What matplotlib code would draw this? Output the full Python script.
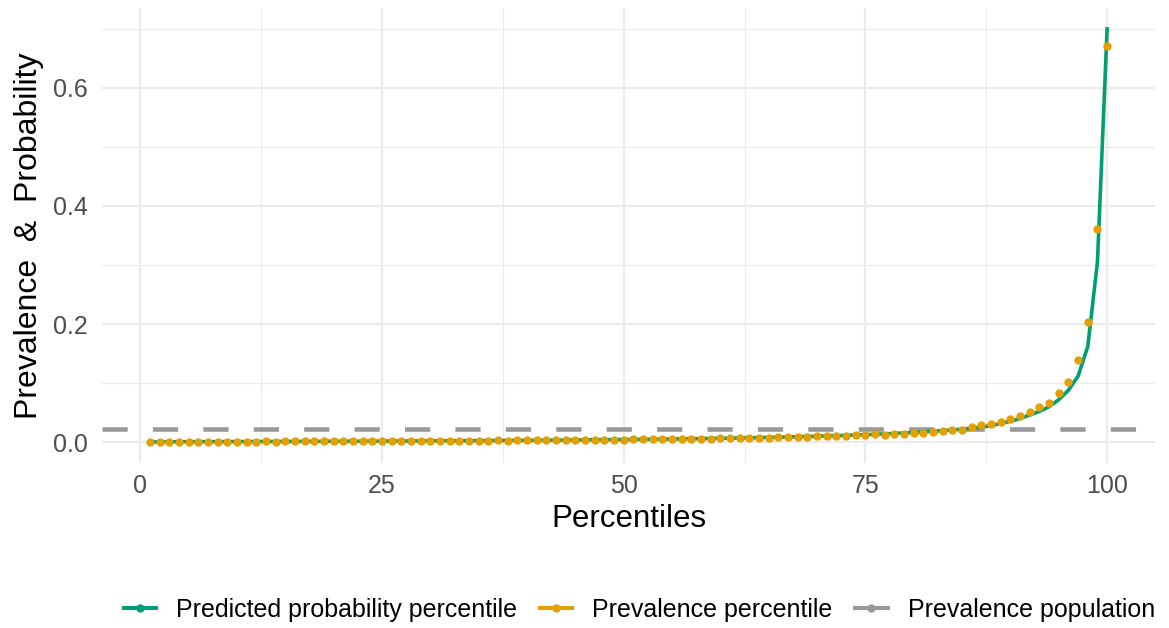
import numpy as np
import matplotlib.pyplot as plt
from matplotlib.lines import Line2D
from matplotlib.ticker import MultipleLocator

plt.rcParams["font.family"] = ["Liberation Sans", "DejaVu Sans"]

percentiles = np.arange(1, 101)

predicted_prob = [
    0.0004, 0.0005, 0.0006, 0.0006, 0.0007, 0.0008, 0.0008, 0.0009, 0.0009, 0.0010,
    0.0010, 0.0011, 0.0011, 0.0012, 0.0012, 0.0013, 0.0013, 0.0014, 0.0014, 0.0015,
    0.0016, 0.0016, 0.0017, 0.0017, 0.0018, 0.0019, 0.0019, 0.0020, 0.0021, 0.0022,
    0.0022, 0.0023, 0.0024, 0.0025, 0.0026, 0.0027, 0.0028, 0.0029, 0.0030, 0.0031,
    0.0032, 0.0033, 0.0034, 0.0036, 0.0037, 0.0038, 0.0040, 0.0041, 0.0043, 0.0044,
    0.0046, 0.0048, 0.0050, 0.0052, 0.0054, 0.0056, 0.0058, 0.0060, 0.0063, 0.0065,
    0.0068, 0.0071, 0.0074, 0.0077, 0.0080, 0.0084, 0.0088, 0.0092, 0.0096, 0.0100,
    0.0105, 0.0110, 0.0115, 0.0121, 0.0127, 0.0133, 0.0140, 0.0148, 0.0156, 0.0165,
    0.0174, 0.0184, 0.0195, 0.0207, 0.0220, 0.0235, 0.0255, 0.0280, 0.0315, 0.0355,
    0.0400, 0.0460, 0.0520, 0.0600, 0.0720, 0.0880, 0.1120, 0.1620, 0.3050, 0.7000,
]

prevalence_pct = [
    0.0000, 0.0002, 0.0003, 0.0005, 0.0004, 0.0006, 0.0005, 0.0008, 0.0007, 0.0009,
    0.0010, 0.0009, 0.0012, 0.0011, 0.0013, 0.0012, 0.0014, 0.0013, 0.0015, 0.0016,
    0.0015, 0.0017, 0.0016, 0.0018, 0.0019, 0.0018, 0.0020, 0.0021, 0.0020, 0.0023,
    0.0022, 0.0024, 0.0025, 0.0024, 0.0027, 0.0026, 0.0029, 0.0028, 0.0031, 0.0030,
    0.0033, 0.0032, 0.0035, 0.0036, 0.0035, 0.0039, 0.0040, 0.0042, 0.0041, 0.0045,
    0.0047, 0.0046, 0.0051, 0.0050, 0.0055, 0.0054, 0.0059, 0.0061, 0.0062, 0.0067,
    0.0069, 0.0070, 0.0076, 0.0078, 0.0079, 0.0086, 0.0087, 0.0093, 0.0095, 0.0102,
    0.0100, 0.0112, 0.0108, 0.0120, 0.0118, 0.0130, 0.0128, 0.0140, 0.0138, 0.0150,
    0.0160, 0.0165, 0.0185, 0.0200, 0.0210, 0.0250, 0.0290, 0.0300, 0.0340, 0.0390,
    0.0450, 0.0510, 0.0590, 0.0660, 0.0830, 0.1020, 0.1390, 0.2030, 0.3610, 0.6710,
]

prevalence_population = 0.022

GREEN = "#009E73"
ORANGE = "#E69F00"
GREY = "#999999"

fig = plt.figure(figsize=(11.69, 6.28), dpi=100)
ax = fig.add_axes([0.0873, 0.263, 0.9007, 0.724])

ax.plot(percentiles, predicted_prob, color=GREEN, lw=2.6, zorder=3)
ax.plot(percentiles, prevalence_pct, "o", color=ORANGE, ms=5, zorder=4)
ax.axhline(prevalence_population, color=GREY, lw=3.3, dashes=(5.5, 5.5), zorder=2)

ax.set_xlim(-3.95, 104.95)
ax.set_ylim(-0.035, 0.735)
ax.xaxis.set_major_locator(MultipleLocator(25))
ax.xaxis.set_minor_locator(MultipleLocator(12.5))
ax.yaxis.set_major_locator(MultipleLocator(0.2))
ax.yaxis.set_minor_locator(MultipleLocator(0.1))
ax.set_yticks([0.0, 0.2, 0.4, 0.6])
ax.set_yticklabels(["0.0", "0.2", "0.4", "0.6"])

ax.grid(which="major", color="#EBEBEB", lw=1.6)
ax.grid(which="minor", color="#EBEBEB", lw=0.8)
ax.set_axisbelow(True)
for s in ax.spines.values():
    s.set_visible(False)
ax.tick_params(which="both", length=0, labelsize=18, labelcolor="#4D4D4D")
ax.tick_params(axis="y", pad=10)
ax.tick_params(axis="x", pad=8)

ax.set_xlabel("Percentiles", fontsize=22.5, labelpad=4)
ax.set_ylabel("Prevalence  &  Probability", fontsize=23, labelpad=7)

handles = [
    Line2D([], [], color=GREEN, lw=2.9, marker="o", ms=5),
    Line2D([], [], color=ORANGE, lw=2.9, marker="o", ms=5),
    Line2D([], [], color=GREY, lw=2.9, marker="o", ms=5),
]
labels = ["Predicted probability percentile", "Prevalence percentile", "Prevalence population"]
fig.legend(handles, labels, loc="center", bbox_to_anchor=(0.547, 0.029), ncol=3,
           frameon=False, fontsize=18, handlelength=1.3, handletextpad=0.8,
           columnspacing=0.9)

fig.savefig("out.png", dpi=100)
